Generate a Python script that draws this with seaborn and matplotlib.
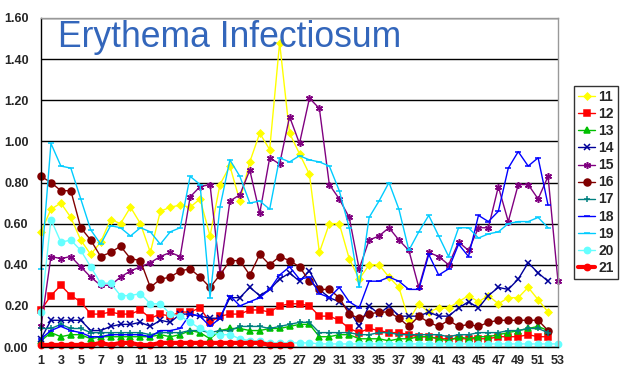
import matplotlib
matplotlib.use('Agg')
import matplotlib.pyplot as plt
import seaborn as sns
import pandas as pd

# weekly values per series
weeks = list(range(1, 54))
series_names = ['11', '12', '13', '14', '15', '16', '17', '18', '19', '20', '21']

s11 = [0.56, 0.67, 0.70, 0.63, 0.52, 0.45, 0.51, 0.62, 0.60, 0.68,
       0.60, 0.46, 0.66, 0.68, 0.69, 0.68, 0.72, 0.54, 0.79, 0.88,
       0.71, 0.90, 1.04, 0.96, 1.48, 1.04, 0.94, 0.84, 0.46, 0.60,
       0.60, 0.43, 0.33, 0.40, 0.40, 0.34, 0.29, 0.13, 0.21, 0.17,
       0.19, 0.19, 0.22, 0.25, 0.22, 0.25, 0.21, 0.24, 0.24, 0.29, 0.23, 0.17]
s12 = [0.18, 0.25, 0.30, 0.25, 0.22, 0.16, 0.16, 0.17, 0.16, 0.16,
       0.18, 0.14, 0.16, 0.15, 0.17, 0.17, 0.19, 0.12, 0.15, 0.16,
       0.16, 0.18, 0.18, 0.17, 0.20, 0.21, 0.21, 0.20, 0.15, 0.15,
       0.13, 0.09, 0.07, 0.09, 0.08, 0.07, 0.07, 0.06, 0.05, 0.05,
       0.04, 0.04, 0.04, 0.04, 0.04, 0.04, 0.05, 0.05, 0.05, 0.06, 0.05, 0.05]
s13 = [0.03, 0.07, 0.05, 0.06, 0.06, 0.04, 0.05, 0.05, 0.05, 0.05,
       0.05, 0.05, 0.06, 0.05, 0.06, 0.08, 0.07, 0.04, 0.08, 0.09,
       0.09, 0.08, 0.08, 0.09, 0.09, 0.10, 0.11, 0.11, 0.05, 0.05,
       0.06, 0.06, 0.04, 0.04, 0.04, 0.03, 0.04, 0.04, 0.05, 0.05,
       0.04, 0.03, 0.05, 0.04, 0.05, 0.05, 0.06, 0.07, 0.08, 0.09, 0.10, 0.08]
s14 = [0.04, 0.13, 0.13, 0.13, 0.13, 0.08, 0.08, 0.10, 0.11, 0.11,
       0.12, 0.10, 0.13, 0.12, 0.16, 0.16, 0.15, 0.14, 0.14, 0.24,
       0.24, 0.29, 0.25, 0.28, 0.33, 0.36, 0.32, 0.37, 0.28, 0.24,
       0.22, 0.18, 0.10, 0.20, 0.16, 0.20, 0.15, 0.15, 0.15, 0.17,
       0.15, 0.15, 0.19, 0.22, 0.19, 0.25, 0.29, 0.28, 0.33, 0.41, 0.36, 0.32]
s15 = [0.10, 0.44, 0.43, 0.44, 0.39, 0.34, 0.30, 0.30, 0.34, 0.37,
       0.39, 0.41, 0.44, 0.46, 0.44, 0.73, 0.78, 0.79, 0.36, 0.71,
       0.74, 0.86, 0.65, 0.92, 0.89, 1.12, 0.99, 1.21, 1.16, 0.79,
       0.72, 0.63, 0.38, 0.52, 0.54, 0.58, 0.52, 0.47, 0.29, 0.46,
       0.44, 0.40, 0.51, 0.47, 0.58, 0.58, 0.78, 0.61, 0.79, 0.79,
       0.72, 0.83, 0.32]
s16 = [0.83, 0.80, 0.76, 0.76, 0.58, 0.52, 0.44, 0.46, 0.49, 0.43,
       0.42, 0.29, 0.33, 0.34, 0.37, 0.38, 0.34, 0.29, 0.35, 0.42,
       0.42, 0.35, 0.45, 0.40, 0.44, 0.42, 0.39, 0.32, 0.28, 0.28,
       0.24, 0.16, 0.14, 0.16, 0.17, 0.17, 0.14, 0.10, 0.15, 0.12,
       0.10, 0.13, 0.10, 0.11, 0.10, 0.12, 0.13, 0.13, 0.13, 0.13, 0.13, 0.08]
s17 = [0.09, 0.09, 0.11, 0.09, 0.09, 0.07, 0.07, 0.07, 0.07, 0.07,
       0.07, 0.06, 0.07, 0.07, 0.07, 0.08, 0.08, 0.07, 0.08, 0.08,
       0.10, 0.10, 0.10, 0.09, 0.10, 0.11, 0.12, 0.12, 0.07, 0.07,
       0.07, 0.07, 0.06, 0.06, 0.07, 0.07, 0.06, 0.06, 0.06, 0.06,
       0.06, 0.05, 0.06, 0.06, 0.07, 0.07, 0.07, 0.08, 0.08, 0.09, 0.09, 0.07]
s18 = [0.04, 0.08, 0.10, 0.08, 0.07, 0.05, 0.05, 0.06, 0.06, 0.06,
       0.06, 0.05, 0.08, 0.08, 0.09, 0.16, 0.15, 0.10, 0.14, 0.25,
       0.20, 0.22, 0.24, 0.28, 0.35, 0.39, 0.33, 0.34, 0.26, 0.24,
       0.29, 0.22, 0.19, 0.32, 0.32, 0.34, 0.32, 0.28, 0.28, 0.45,
       0.35, 0.38, 0.50, 0.44, 0.64, 0.61, 0.66, 0.87, 0.95, 0.88, 0.92, 0.69]
s19 = [0.38, 0.99, 0.88, 0.87, 0.72, 0.57, 0.50, 0.59, 0.58, 0.54,
       0.58, 0.56, 0.50, 0.56, 0.58, 0.83, 0.79, 0.24, 0.68, 0.91,
       0.83, 0.70, 0.71, 0.67, 0.92, 0.90, 0.93, 0.91, 0.90, 0.88,
       0.76, 0.58, 0.29, 0.63, 0.71, 0.80, 0.67, 0.47, 0.56, 0.64,
       0.54, 0.44, 0.58, 0.58, 0.53, 0.55, 0.56, 0.60, 0.61, 0.61, 0.63, 0.58]
s20 = [0.17, 0.62, 0.51, 0.52, 0.47, 0.39, 0.31, 0.31, 0.25, 0.25,
       0.26, 0.21, 0.21, 0.16, 0.15, 0.12, 0.09, 0.07, 0.06, 0.06,
       0.04, 0.03, 0.03, 0.02, 0.02, 0.02, 0.02, 0.02, 0.015, 0.015,
       0.015, 0.015, 0.015, 0.015, 0.015, 0.015, 0.015, 0.015, 0.015, 0.015,
       0.015, 0.015, 0.015, 0.015, 0.015, 0.015, 0.015, 0.015, 0.015, 0.015,
       0.015, 0.015, 0.015]
s21 = [0.01, 0.01, 0.01, 0.01, 0.01, 0.01, 0.02, 0.01, 0.02, 0.02,
       0.01, 0.01, 0.02, 0.02, 0.02, 0.02, 0.02, 0.02, 0.02, 0.02,
       0.02, 0.02, 0.02, 0.01, 0.01, 0.01]

all_series = [s11, s12, s13, s14, s15, s16, s17, s18, s19, s20, s21]

# colour, marker, marker size, line width
styles = {
    '11': ('#FFFF00', 'D', 3.5, 1.0),
    '12': ('#FF0000', 's', 4.5, 1.0),
    '13': ('#00C000', '^', 4.5, 1.0),
    '14': ('#000099', 'x', 4, 1.0),
    '15': ('#800080', (6, 2, 0), 5, 1.0),
    '16': ('#800000', 'o', 5, 1.0),
    '17': ('#008080', '+', 5, 1.0),
    '18': ('#0000FF', '_', 4, 1.0),
    '19': ('#00CCFF', '_', 5, 1.0),
    '20': ('#66FFFF', 'o', 4.5, 1.0),
    '21': ('#FF0000', 'o', 4.5, 3.0),
}

sns.set_style('white')
plt.rcParams['font.family'] = ['Liberation Sans', 'DejaVu Sans']

fig = plt.figure(figsize=(6.2, 3.84), dpi=100)
ax = fig.add_axes([41 / 620, 1 - 347 / 384, 517 / 620, 329 / 384])

for name, vals in zip(series_names, all_series):
    color, marker, ms, lw = styles[name]
    df = pd.DataFrame({'week': weeks[:len(vals)], 'value': vals})
    sns.lineplot(data=df, x='week', y='value', ax=ax, color=color,
                 marker=marker, markersize=ms, linewidth=lw,
                 markeredgecolor=color, markeredgewidth=1.1,
                 errorbar=None, label=name, clip_on=False)

ax.set_xlim(1, 53)
ax.set_ylim(0, 1.6)
ax.set_xticks(list(range(1, 54, 2)))
ax.set_yticks([i * 0.2 for i in range(9)])
ax.set_yticklabels(['%.2f' % (i * 0.2) for i in range(9)])
ax.set_xlabel('')
ax.set_ylabel('')
ax.tick_params(axis='both', length=0, labelsize=9)
ax.tick_params(axis='y', pad=9)
ax.tick_params(axis='x', pad=6)
for lbl in ax.get_xticklabels() + ax.get_yticklabels():
    lbl.set_fontweight('bold')

ax.yaxis.grid(True, color='black', linewidth=1.0)
ax.xaxis.grid(False)
ax.set_axisbelow(True)
for side in ['top', 'right']:
    ax.spines[side].set_color('#999999')
    ax.spines[side].set_linewidth(1.0)
for side in ['left', 'bottom']:
    ax.spines[side].set_color('black')
    ax.spines[side].set_linewidth(1.0)

fig.text(58 / 620, 1 - 47 / 384, 'Erythema Infectiosum', fontsize=25.6,
         color='#3366BB', va='baseline', ha='left')

handles, labels = ax.get_legend_handles_labels()
if ax.get_legend() is not None:
    ax.get_legend().remove()
leg = fig.legend(handles, labels, loc='upper left',
                 bbox_to_anchor=(574 / 620, 1 - 86 / 384),
                 frameon=True, fancybox=False, edgecolor='black',
                 prop={'weight': 'bold', 'size': 10},
                 handlelength=1.2, labelspacing=0.22, borderpad=0.3,
                 handletextpad=0.25, borderaxespad=0)
leg.get_frame().set_linewidth(1.0)

fig.savefig('out.png', dpi=100)
